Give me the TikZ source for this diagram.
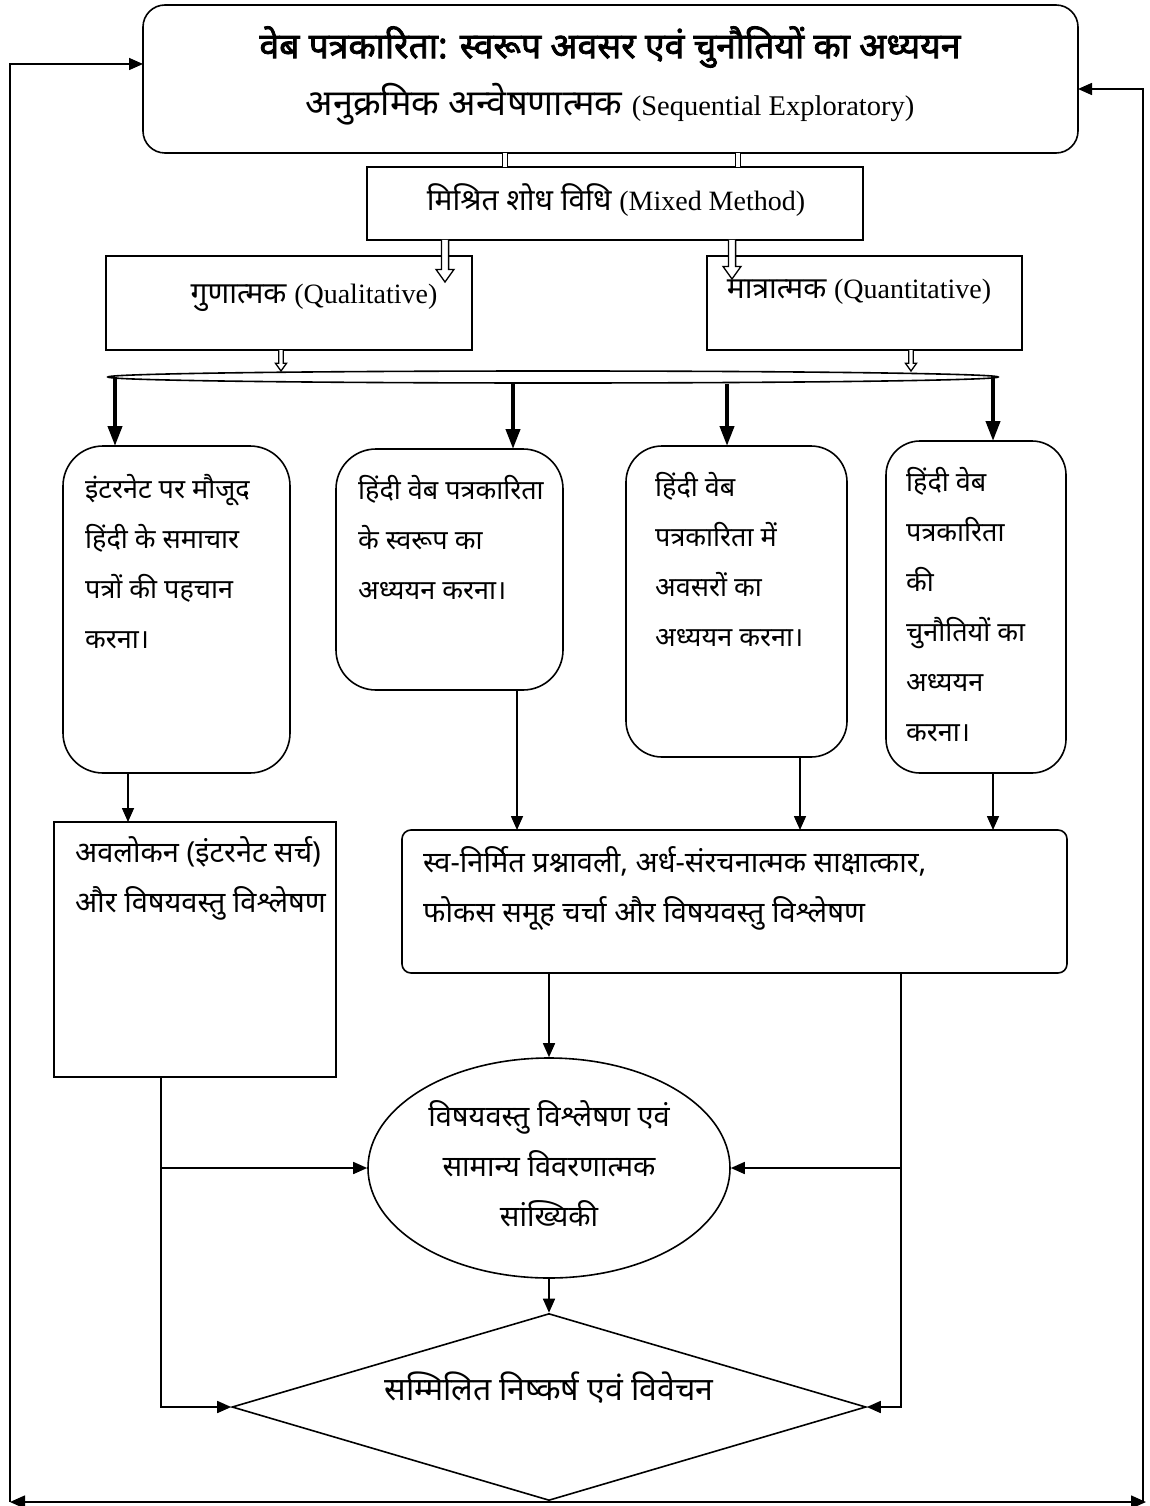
\documentclass[tikz,border=0pt]{standalone}
\usepackage{fontspec}
\setmainfont{Liberation Serif}
\newfontfamily\dv[Script=Devanagari]{Noto Sans}
\newfontfamily\dvb[Script=Devanagari, FakeBold=2.2]{Noto Sans}
\newfontfamily\latf{Liberation Serif}
\usetikzlibrary{shapes.geometric,arrows.meta,calc}
\newcommand\lat[1]{{\latf\fontsize{28}{50}\selectfont #1}}
\newcommand\hollowarr[3]{%
  \draw[line width=1.3pt, fill=white, line join=miter]
  ($(#1)+(-#3*0.4,0)$) -- ($(#2)+(-#3*0.4,-#3*1.4)$) -- ($(#2)+(-#3,-#3*1.4)$) -- (#2)
  -- ($(#2)+(#3,-#3*1.4)$) -- ($(#2)+(#3*0.4,-#3*1.4)$) -- ($(#1)+(#3*0.4,0)$);}
\begin{document}
\begin{tikzpicture}[x=1pt,y=-1pt,
  frame/.style={draw, line width=1.6pt, inner sep=0pt, outer sep=0pt},
  rbox/.style={frame, rounded corners=#1},
  conn/.style={line width=1.6pt, -{Triangle[length=14pt,width=12pt]}},
  thickconn/.style={line width=4pt, -{Triangle[length=20pt,width=14pt]}},
  dtext/.style={font=\dv\fontsize{27}{50}\selectfont, align=left, anchor=west, inner sep=0pt},
  ltext/.style={font=\dv\fontsize{29}{50}\selectfont, align=left, anchor=west, inner sep=0pt},
  ctext/.style={font=\dv\fontsize{29}{50}\selectfont, align=center, inner sep=0pt},
]
\useasboundingbox (0,0) rectangle (1149,1506);
\fill[white] (0,0) rectangle (1149,1506);

% boxes
\node[rbox=22pt, minimum width=935pt, minimum height=148pt] (top) at (610.5,79) {};
\node[frame, minimum width=496pt, minimum height=73pt] (mixed) at (615,203.5) {};
\node[frame, minimum width=366pt, minimum height=94pt] (qual) at (289,303) {};
\node[frame, minimum width=315pt, minimum height=94pt] (quant) at (864.5,303) {};
\node[draw, ellipse, line width=1.6pt, minimum width=890pt, minimum height=12pt, inner sep=0pt] (bar) at (553,377) {};
\node[rbox=40pt, minimum width=227pt, minimum height=327pt] (box1) at (176.5,609.5) {};
\node[rbox=40pt, minimum width=227pt, minimum height=241pt] (box2) at (449.5,569.5) {};
\node[rbox=36pt, minimum width=221pt, minimum height=311pt] (box3) at (736.5,601.5) {};
\node[rbox=34pt, minimum width=180pt, minimum height=332pt] (box4) at (976,607) {};
\node[frame, minimum width=282pt, minimum height=255pt] (obs) at (195,949.5) {};
\node[rbox=9pt, minimum width=665pt, minimum height=143pt] (tools) at (734.5,901.5) {};
\node[draw, ellipse, line width=1.6pt, minimum width=362pt, minimum height=220pt, inner sep=0pt] (ell) at (549,1168) {};
\node[draw, diamond, line width=1.6pt, minimum width=634pt, minimum height=187pt, inner sep=0pt] (dia) at (549,1407) {};

% texts
\node[ctext, font=\dvb\fontsize{35.5}{40}\selectfont] (title) at (610,47) {वेब पत्रकारिता: स्वरूप अवसर एवं चुनौतियों का अध्ययन};
\node[ctext, font=\dv\fontsize{36}{40}\selectfont] (sub) at (610,104) {अनुक्रमिक अन्वेषणात्मक {\latf\fontsize{28.5}{40}\selectfont (Sequential Exploratory)}};
\node[ctext, font=\dv\fontsize{30}{50}\selectfont] (mixedt) at (616,200) {मिश्रित शोध विधि \lat{(Mixed Method)}};
\node[ctext, font=\dv\fontsize{30}{50}\selectfont] (qualt) at (314,298) {गुणात्मक \lat{(Qualitative)}};
\node[ctext, font=\dv\fontsize{30}{50}\selectfont] (quantt) at (859,292) {मात्रात्मक \lat{(Quantitative)}};
\node[dtext] (t1) at (85,562) {इंटरनेट पर मौजूद\\हिंदी के समाचार\\पत्रों की पहचान\\करना।};
\node[dtext] (t2) at (358,538) {हिंदी वेब पत्रकारिता\\के स्वरूप का\\अध्ययन करना।};
\node[dtext] (t3) at (655,559.5) {हिंदी वेब\\पत्रकारिता में\\अवसरों का\\अध्ययन करना।};
\node[dtext] (t4) at (906,605) {हिंदी वेब\\पत्रकारिता\\की\\चुनौतियों का\\अध्ययन\\करना।};
\node[ltext] (tobs) at (75,878) {अवलोकन (इंटरनेट सर्च)\\और विषयवस्तु विश्लेषण};
\node[ltext] (ttools) at (423,888) {स्व-निर्मित प्रश्नावली, अर्ध-संरचनात्मक साक्षात्कार,\\फोकस समूह चर्चा और विषयवस्तु विश्लेषण};
\node[ctext] (tell) at (549,1164) {विषयवस्तु विश्लेषण एवं\\सामान्य विवरणात्मक\\सांख्यिकी};
\node[ctext, font=\dv\fontsize{32}{40}\selectfont] (tdia) at (549,1388) {सम्मिलित निष्कर्ष एवं विवेचन};

% double lines top -> mixed
\draw[line width=1.3pt, double, double distance=4pt] (top.south -| 505,0) -- (mixed.north -| 505,0);
\draw[line width=1.3pt, double, double distance=4pt] (top.south -| 738,0) -- (mixed.north -| 738,0);

% hollow arrows
\coordinate (ha1) at (445,282);
\coordinate (ha2) at (732,279);
\coordinate (ha3) at (281,371);
\coordinate (ha4) at (911,371);
\hollowarr{mixed.south -| ha1}{ha1}{9}
\hollowarr{mixed.south -| ha2}{ha2}{9}
\hollowarr{qual.south -| ha3}{ha3}{5.5}
\hollowarr{quant.south -| ha4}{ha4}{5.5}

% thick arrows
\draw[thickconn] (bar.center -| 115,0) -- (box1.north -| 115,0);
\draw[thickconn] (bar.south -| 513,0) -- (box2.north -| 513,0);
\draw[thickconn] (bar.south -| 727,0) -- (box3.north -| 727,0);
\draw[thickconn] (bar.center -| 993,0) -- (box4.north -| 993,0);

% to methods
\draw[conn] (box1.south -| 128,0) -- (obs.north -| 128,0);
\draw[conn] (box2.south -| 517,0) -- (tools.north -| 517,0);
\draw[conn] (box3.south -| 800,0) -- (tools.north -| 800,0);
\draw[conn] (box4.south -| 993,0) -- (tools.north -| 993,0);

% to ellipse and diamond
\coordinate (lv) at (161,1077);
\coordinate (rv) at (901,973);
\draw[conn] (tools.south -| ell.north) -- (ell.north);
\draw[conn] (obs.south -| lv) |- (dia.west);
\draw[conn] (ell.west -| lv) -- (ell.west);
\draw[conn] (tools.south -| rv) |- (dia.east);
\draw[conn] (ell.east -| rv) -- (ell.east);
\draw[conn] (ell.south) -- (dia.north);

% feedback loop
\coordinate (bl) at (10,1502);
\coordinate (br) at (1146,1502);
\coordinate (rb) at (1143,1502);
\draw[conn] (bl) |- (top.west |- 0,64);
\draw[conn] (rb) |- (top.east |- 0,89);
\draw[line width=1.6pt, {Triangle[length=15pt,width=13pt]}-{Triangle[length=15pt,width=13pt]}] (bl) -- (br);
\end{tikzpicture}
\end{document}
